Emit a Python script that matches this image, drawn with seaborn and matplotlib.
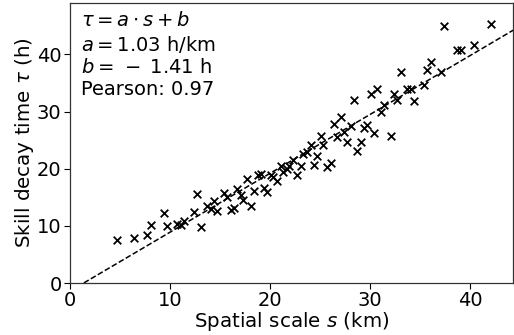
import numpy as np
import pandas as pd
import matplotlib
matplotlib.use("Agg")
import matplotlib.pyplot as plt
import seaborn as sns

scale_km = [4.7, 6.4, 7.7, 8.1, 9.4, 9.7, 10.7, 11.1, 11.4, 12.4, 12.7, 13.1,
            13.7, 14.1, 14.4, 14.7, 15.4, 15.7, 16.1, 16.4, 16.7, 17.1, 17.3,
            17.7, 18.1, 18.4, 18.8, 19.1, 19.4, 19.7, 20.1, 20.3, 20.7, 21.1,
            21.3, 21.7, 21.9, 22.3, 22.7, 23.1, 23.3, 23.7, 24.1, 24.4, 24.7,
            25.1, 25.3, 25.7, 26.1, 26.4, 26.7, 27.1, 27.4, 27.7, 28.1, 28.4,
            28.7, 29.1, 29.4, 29.7, 30.1, 30.4, 30.7, 31.1, 31.4, 32.1, 32.4,
            32.7, 33.1, 33.7, 34.1, 34.4, 35.4, 35.7, 36.1, 37.1, 37.4, 38.7,
            39.1, 40.4, 42.1]
decay_h = [7.5, 7.8, 8.4, 10.2, 12.3, 10.0, 10.4, 10.2, 10.8, 12.5, 15.5, 9.8,
           13.4, 12.9, 14.3, 12.6, 15.7, 15.0, 12.7, 13.1, 16.5, 15.4, 14.6,
           18.2, 13.5, 16.1, 18.9, 19.1, 16.6, 16.0, 18.9, 18.6, 17.8, 20.4,
           19.5, 19.9, 20.4, 21.6, 18.9, 20.5, 22.6, 23.0, 24.1, 20.7, 22.2,
           25.8, 24.1, 20.3, 21.0, 27.9, 25.6, 29.1, 26.4, 24.6, 27.5, 32.1,
           23.1, 24.6, 27.2, 27.7, 33.0, 26.3, 34.0, 29.9, 31.2, 25.7, 33.0,
           32.1, 37.0, 34.0, 33.9, 31.9, 34.7, 37.2, 38.6, 36.9, 45.0, 40.7,
           40.8, 41.7, 45.4]

slope_a = 1.03
intercept_b = -1.41
pearson_r = 0.97

sns.set_style("ticks")
plt.rcParams['font.family'] = ['DejaVu Sans']
plt.rcParams['mathtext.fontset'] = 'dejavusans'
plt.rcParams['text.color'] = 'black'
plt.rcParams['axes.labelcolor'] = 'black'
plt.rcParams['xtick.color'] = 'black'
plt.rcParams['ytick.color'] = 'black'

fig = plt.figure(figsize=(5.14, 3.35), dpi=100)
ax = fig.add_axes([0.136, 0.155, 0.862, 0.836])

df = pd.DataFrame({"s": scale_km, "tau": decay_h})
sns.scatterplot(data=df, x="s", y="tau", marker="x", color="black",
                s=30, linewidth=1.3, ax=ax)

xs = np.array([0, 50.0])
fit = pd.DataFrame({"s": xs, "tau": slope_a * xs + intercept_b})
sns.lineplot(data=fit, x="s", y="tau", color="black", linestyle="--",
             linewidth=1.1, ax=ax)

ax.set_xlim(0, 44.3)
ax.set_ylim(0, 49)
ax.set_xticks([0, 10, 20, 30, 40])
ax.set_yticks([0, 10, 20, 30, 40])
ax.tick_params(labelsize=14, length=4, width=0.8, pad=2)
ax.set_xlabel("Spatial scale $s$ (km)", fontsize=14.3, labelpad=0)
ax.set_ylabel(r"Skill decay time $\tau$ (h)", fontsize=14.3, labelpad=1)
for sp in ax.spines.values():
    sp.set_visible(True)
    sp.set_color("#333333")
    sp.set_linewidth(0.9)

txt = (r"$\tau = a \cdot s + b$" + "\n"
       + r"$a = 1.03$ h/km" + "\n"
       + r"$b =\,-\;1.41$ h" + "\n"
       + f"Pearson: {pearson_r:.2f}")
ax.text(0.025, 0.97, txt, transform=ax.transAxes, fontsize=14,
        va="top", ha="left", linespacing=1.2)

fig.savefig("out.png", dpi=100)
